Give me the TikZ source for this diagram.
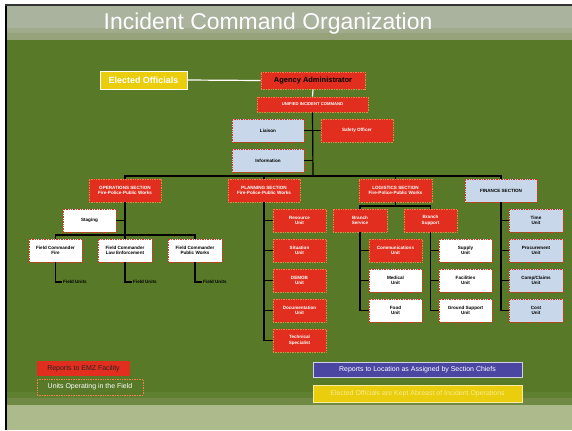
\documentclass[tikz,border=0pt]{standalone}
\usepackage{fontspec}
\setmainfont{Liberation Sans}
\definecolor{bggreen}{RGB}{88,122,40}
\definecolor{bandtop}{RGB}{170,179,158}
\definecolor{bandbot}{RGB}{150,163,122}
\definecolor{lightbot}{RGB}{172,186,140}
\definecolor{midbot}{RGB}{112,138,70}
\definecolor{icred}{RGB}{226,46,30}
\definecolor{icorange}{RGB}{238,132,70}
\definecolor{icyellow}{RGB}{234,205,12}
\definecolor{icblue}{RGB}{200,216,234}
\definecolor{icpurple}{RGB}{74,70,162}
\definecolor{paleyellow}{RGB}{248,236,140}
\newcommand\tx{\fontsize{4.6}{5.5}\selectfont\bfseries}
\newcommand\bx[7]{\node[#6,minimum width={(#4-#2)*1bp},minimum height={(#5-#3)*1bp}] (#1) at ({(#2+#4)/2},{(#3+#5)/2}) {#7};}
\tikzset{
  basebox/.style={inner sep=0.5bp, align=center, font=\tx, line width=0.7bp, densely dotted},
  redbox/.style={basebox, fill=icred, draw=icorange, text=white},
  whitebox/.style={basebox, fill=white, draw=icred, text=black},
  bluebox/.style={basebox, fill=icblue, draw=icred, text=black},
  conn/.style={draw=black, line width=1.2bp},
  wconn/.style={draw=white, line width=1.2bp},
}
\begin{document}
\begin{tikzpicture}[x=1bp,y=-1bp]
\useasboundingbox (0,0) rectangle (572,430);
\fill[white] (0,0) rectangle (572,430);
\fill[black] (5,4) rectangle (7,430);
\fill[black!80] (5,4) rectangle (572,6);
\fill[bggreen] (7,6) rectangle (572,430);
\fill[bandtop] (7,6) rectangle (572,28);
\fill[bandtop!50!bandbot] (7,28) rectangle (572,33);
\fill[bandbot] (7,33) rectangle (572,40);
\fill[bggreen!70!midbot] (7,392) rectangle (572,398);
\fill[midbot] (7,398) rectangle (572,405);
\fill[lightbot] (7,405) rectangle (572,430);
\node[text=white, font=\fontsize{23}{26}\selectfont] (title) at (268,24) {Incident Command Organization};

% top
\bx{eo}{100}{71}{187}{89}{basebox, solid, fill=icyellow, draw=white, text=white, font=\fontsize{9}{10}\selectfont\bfseries}{Elected Officials}
\bx{aa}{261}{72}{365}{89}{redbox, text=black, font=\fontsize{7.5}{9}\selectfont\bfseries}{Agency Administrator}
\bx{uic}{257}{97}{368}{112}{redbox, font=\fontsize{4.2}{5}\selectfont\bfseries}{UNIFIED INCIDENT COMMAND}
\bx{liaison}{232}{119}{304}{142}{bluebox}{Liaison}
\bx{info}{232}{149}{304}{172}{bluebox}{Information}
\bx{safety}{321}{119}{393}{142}{redbox}{Safety Officer}

% sections
\bx{ops}{89}{179}{161}{202}{redbox}{OPERATIONS SECTION\\Fire-Police-Public Works}
\bx{plan}{228}{179}{300}{202}{redbox}{PLANNING SECTION\\Fire-Police-Public Works}
\bx{log}{359}{179}{432}{202}{redbox}{LOGISTICS SECTION\\Fire-Police-Public Works}
\bx{fin}{465}{179}{537}{202}{bluebox}{FINANCE SECTION}

% operations
\bx{staging}{63}{209}{116}{232}{whitebox}{Staging}
\bx{fcf}{29}{239}{82}{262}{whitebox}{Field Commander\\Fire}
\bx{fcl}{98}{239}{152}{262}{whitebox}{Field Commander\\Law Enforcement}
\bx{fcp}{168}{239}{222}{262}{whitebox}{Field Commander\\Public Works}
\node[font=\tx, anchor=west, inner sep=1bp] (fu1) at (62,282) {Field Units};
\node[font=\tx, anchor=west, inner sep=1bp] (fu2) at (132,282) {Field Units};
\node[font=\tx, anchor=west, inner sep=1bp] (fu3) at (202,282) {Field Units};

% planning
\bx{ru}{273}{209}{326}{232}{redbox}{Resource\\Unit}
\bx{su}{273}{239}{326}{262}{redbox}{Situation\\Unit}
\bx{dm}{273}{269}{326}{292}{redbox}{DEMOB\\Unit}
\bx{doc}{273}{299}{326}{322}{redbox}{Documentation\\Unit}
\bx{ts}{273}{329}{326}{352}{redbox}{Technical\\Specialist}

% logistics
\bx{bs}{333}{209}{387}{232}{redbox}{Branch\\Service}
\bx{bsu}{404}{209}{457}{232}{redbox}{Branch\\Support}
\bx{comm}{369}{239}{422}{262}{redbox}{Communications\\Unit}
\bx{med}{369}{269}{422}{292}{whitebox}{Medical\\Unit}
\bx{food}{369}{299}{422}{322}{whitebox}{Food\\Unit}
\bx{sup}{439}{239}{492}{262}{whitebox}{Supply\\Unit}
\bx{fac}{439}{269}{492}{292}{whitebox}{Facilities\\Unit}
\bx{gs}{439}{299}{492}{322}{whitebox}{Ground Support\\Unit}

% finance
\bx{time}{509}{209}{563}{232}{bluebox}{Time\\Unit}
\bx{proc}{509}{239}{563}{262}{bluebox}{Procurement\\Unit}
\bx{comp}{509}{269}{563}{292}{bluebox}{Comp/Claims\\Unit}
\bx{cost}{509}{299}{563}{322}{bluebox}{Cost\\Unit}

% legend
\bx{lg1}{37}{361}{130}{376}{redbox, solid, draw=none, text=black!85, font=\fontsize{7}{8}\selectfont}{Reports to EMZ Facility}
\bx{lg2}{37}{379}{143}{395}{basebox, fill=bggreen, draw=icorange, text=white, font=\fontsize{7}{8}\selectfont}{Units Operating in the Field}
\bx{lg3}{313}{362}{522}{377}{basebox, solid, fill=icpurple, draw=white!75!icpurple, text=white, font=\fontsize{7}{8}\selectfont}{Reports to Location as Assigned by Section Chiefs}
\bx{lg4}{313}{385}{522}{402}{basebox, solid, fill=icyellow, draw=white!60!icyellow, text=paleyellow, font=\fontsize{7}{8}\selectfont}{Elected Officials are Kept Abreast of Incident Operations}

% connectors
\draw[wconn] (eo.east) -- (aa.west);
\draw[wconn] (aa.south) -- (uic.north);
\coordinate (hub) at (313,176);
\draw[conn] (uic.south) -- (hub);
\draw[conn] (liaison.east) -- (liaison.east -| uic.south);
\draw[conn] (info.east) -- (info.east -| uic.south);
\draw[conn] (safety.west) -- (safety.west -| uic.south);
\draw[conn] (ops.north) |- (hub) -| (fin.north);
\draw[conn] (hub) -| (plan.north);
\draw[conn] (hub) -| (log.north);
% operations
\coordinate (opsbar) at (125,235);
\draw[conn] (ops.south) -- (opsbar);
\draw[conn] (staging.east) -- (staging.east -| ops.south);
\draw[conn] (fcf.north) |- (opsbar) -| (fcp.north);
\draw[conn] (fcl.north) -- (opsbar);
\draw[conn] (fcf.south) |- (fu1.west);
\draw[conn] (fcl.south) |- (fu2.west);
\draw[conn] (fcp.south) |- (fu3.west);
% planning
\draw[conn] (plan.south) |- (ts.west);
\foreach \n in {ru,su,dm,doc} \draw[conn] (\n.west -| plan.south) -- (\n.west);
% logistics
\coordinate (logbar) at (395.5,206);
\draw[conn] (log.south) -- (logbar);
\draw[conn] (bs.north) |- (logbar) -| (bsu.north);
\draw[conn] (bs.south) |- (food.west);
\foreach \n in {comm,med} \draw[conn] (\n.west -| bs.south) -- (\n.west);
\draw[conn] (bsu.south) |- (gs.west);
\foreach \n in {sup,fac} \draw[conn] (\n.west -| bsu.south) -- (\n.west);
% finance
\draw[conn] (fin.south) |- (cost.west);
\foreach \n in {time,proc,comp} \draw[conn] (\n.west -| fin.south) -- (\n.west);
\end{tikzpicture}
\end{document}
